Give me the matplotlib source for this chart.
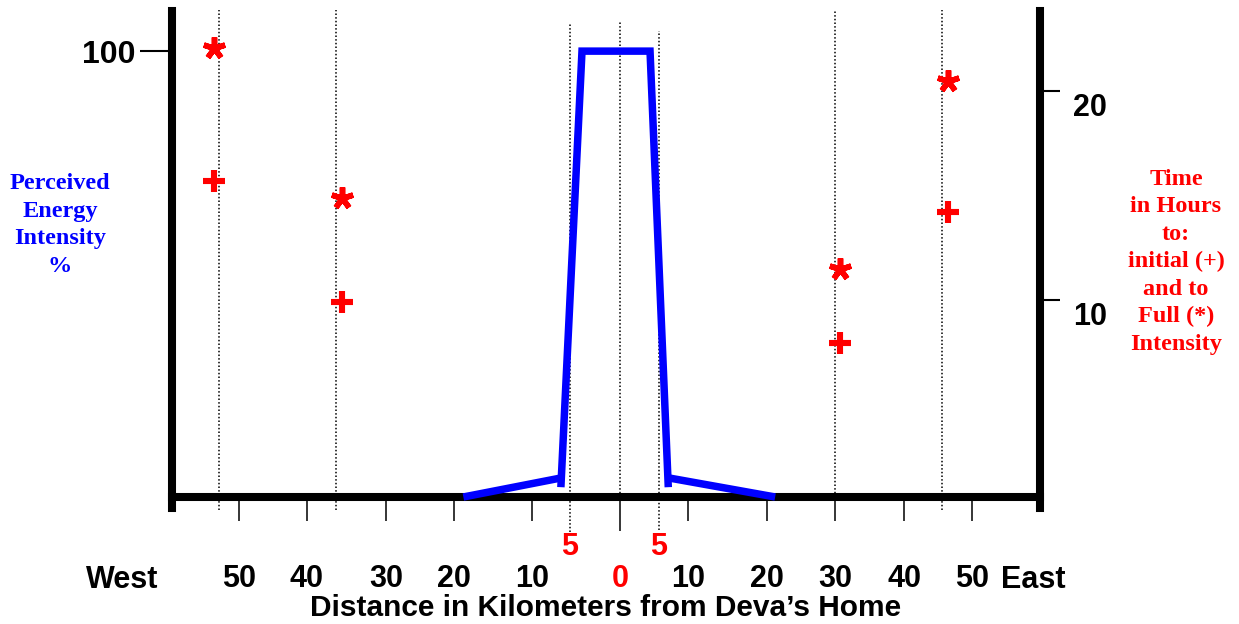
import matplotlib
matplotlib.use('Agg')
import matplotlib.pyplot as plt
import numpy as np
from matplotlib.transforms import ScaledTranslation

# the hand-drawn distance axis is not linear, so map km onto it piecewise
axis_km = [-100, -60, -50, -40, -30, -20, -10, -5, 0, 5, 10, 20, 30, 40, 50, 60, 100]
axis_pos = [-100, 172, 239, 307, 386, 454, 532, 570, 620, 659, 688, 767, 835, 904, 972, 1040, 1312]

tick_km = [-50, -40, -30, -20, -10, 10, 20, 30, 40, 50]
tick_labels = ['50', '40', '30', '20', '10', '10', '20', '30', '40', '50']

# sites where the energy was felt (dotted guides)
site_km = [-53, -36.3, -5, 0, 5, 30, 45.6]

# perceived energy intensity, % (blue trace, drawn as three strokes)
foot_west_km = [-18.8, -6.1]
foot_west_pct = [0, 4.3]
body_km = [-6.2, -3.8, 3.85, 6.6]
body_pct = [2.2, 100, 100, 2.2]
foot_east_km = [6.6, 21.2]
foot_east_pct = [4.3, 0]

# time in hours to initial (+) and full (*) intensity
plus_km = [-53.7, -35.6, 30.7, 46.5]
plus_hours = [15.7, 9.9, 7.95, 14.2]
star_km = [-53.7, -35.6, 30.7, 46.5]
star_hours = [22.05, 14.9, 11.5, 20.5]

RED = '#ff0000'
BLUE = '#0000ff'

plt.rcParams['font.family'] = ['Liberation Sans', 'DejaVu Sans']
plt.rcParams['font.weight'] = 'bold'


def fwd(x):
    return np.interp(x, axis_km, axis_pos)


def inv(x):
    return np.interp(x, axis_pos, axis_km)


fig = plt.figure(figsize=(12.39, 6.24), dpi=100)
ax = fig.add_axes([172 / 1239, 127 / 624, 868 / 1239, 486 / 624])
ax.set_xscale('function', functions=(fwd, inv))
ax.set_xlim(-60, 60)
ax.set_ylim(0, 109.0)

ax2 = ax.twinx()
ax2.set_ylim(0.574, 23.83)

# spines
for s in ['top', 'right']:
    ax.spines[s].set_visible(False)
for s in ['top', 'left', 'bottom']:
    ax2.spines[s].set_visible(False)
for sp in [ax.spines['left'], ax.spines['bottom'], ax2.spines['right']]:
    sp.set_linewidth(5.8)
    sp.set_color('black')
ax.spines['left'].set_bounds(-2.5, 109.0)
ax2.spines['right'].set_bounds(0.05, 23.83)

# x ticks
ax.set_xticks(tick_km, tick_labels)
ax.set_xticks([0], ['0'], minor=True)
ax.tick_params(axis='x', which='major', direction='out', length=17, width=1.1,
               pad=31.5, labelsize=22)
ax.tick_params(axis='x', which='minor', direction='out', length=24.5, width=1.1,
               pad=24, labelsize=22, labelcolor=RED)

# left y tick
ax.set_yticks([100], ['100'])
ax.tick_params(axis='y', direction='out', length=23, width=1.5, pad=3.5, labelsize=23)

# right y ticks
ax2.set_yticks([10, 20], ['10', '20'])
ax2.tick_params(axis='y', direction='out', length=14.4, width=1.5, pad=9.5, labelsize=22)
for lab in ax2.get_yticklabels():
    lab.set_transform(lab.get_transform() + ScaledTranslation(0, -0.13, fig.dpi_scale_trans))

# dotted guides
guide_top = [109.2, 109.2, 106.3, 106.8, 104.5, 109.2, 109.2]
guide_bottom = [-2.9, -2.9, -7.8, 0, -7.4, 0, -2.9]
ax.vlines(site_km, guide_bottom, guide_top, colors='black',
          linestyles=(0, (1, 1.4)), linewidth=1.1, clip_on=False, zorder=1)

# energy trace
for xs, ys in [(foot_west_km, foot_west_pct), (body_km, body_pct), (foot_east_km, foot_east_pct)]:
    ax.plot(xs, ys, color=BLUE, linewidth=5.4, solid_capstyle='butt',
            solid_joinstyle='miter', clip_on=False, zorder=5)

# time markers
ax2.plot(plus_km, plus_hours, linestyle='none', marker='+', markersize=15.5,
         markeredgewidth=4.4, color=RED, clip_on=False)
ax2.plot(star_km, star_hours, linestyle='none', marker=(5, 2, 0), markersize=16,
         markeredgewidth=4.0, color=RED, clip_on=False)

# red 5 km labels
for k in [-5, 5]:
    ax.text(k, -0.103, '5', transform=ax.get_xaxis_transform(), ha='center',
            va='center', color=RED, fontsize=22, fontweight='bold')

ax.text(-0.0576, -0.1705, 'West', transform=ax.transAxes, ha='center', va='center',
        fontsize=22, fontweight='bold')
ax.text(0.992, -0.1705, 'East', transform=ax.transAxes, ha='center', va='center',
        fontsize=22, fontweight='bold')

ax.set_xlabel('Distance in Kilometers from Deva’s Home', fontsize=21.5,
              fontweight='bold', labelpad=-0.5)

fig.text(60 / 1239, 1 - 225 / 624, 'Perceived\nEnergy\nIntensity\n%', ha='center',
         va='center', color=BLUE, fontsize=17.5, fontweight='bold',
         family='Liberation Serif', linespacing=1.4)
fig.text(1176 / 1239, 1 - 262 / 624,
         'Time\nin Hours\nto:\ninitial (+)\nand to\nFull (*)\nIntensity',
         ha='center', va='center', color=RED, fontsize=17.5, fontweight='bold',
         family='Liberation Serif', linespacing=1.4)

fig.savefig('out.png', dpi=100)
